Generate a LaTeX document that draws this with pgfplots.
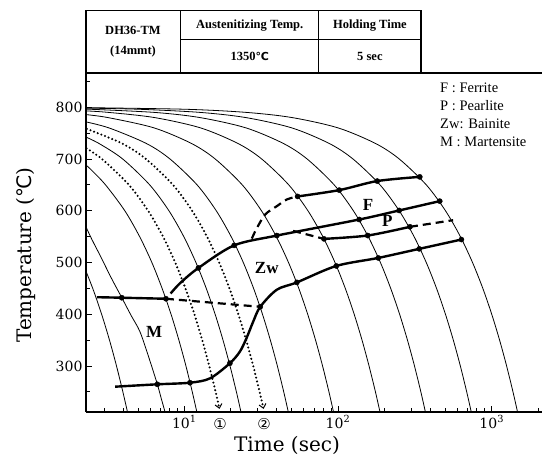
\documentclass[border=0pt]{standalone}
\usepackage{fontspec}
\setmainfont{Liberation Serif}
\newfontfamily\dvserif{DejaVu Serif}
\newfontfamily\dvsans{DejaVu Sans}
\usepackage{pgfplots}
\pgfplotsset{compat=1.18}
\usetikzlibrary{arrows.meta}
\tikzset{
  cc/.style={black, line width=0.8pt, smooth, no markers},
  dd/.style={black, line width=2.3pt, line cap=round, dash pattern=on 0pt off 3.9pt, smooth, no markers},
  tk/.style={black, line width=2.4pt, smooth, no markers},
  tkd/.style={black, line width=2.2pt, dash pattern=on 8pt off 5pt, smooth, no markers},
  mk/.style={black, only marks, mark=*, mark size=2.6pt},
}
\begin{document}
\begin{tikzpicture}[x=1pt,y=1pt]
\useasboundingbox (0,0) rectangle (542,467);
\begin{axis}[
  at={(86pt,55pt)}, anchor=south west,
  width=456pt, height=339pt, scale only axis,
  xmode=log, xmin=2.294, xmax=2124, ymin=211, ymax=866,
  axis x line*=bottom, axis y line*=left,
  axis line style={-, line width=1.3pt},
  xtick={10,100,1000},
  xticklabels={10\textsuperscript{1},10\textsuperscript{2},10\textsuperscript{3}},
  minor xtick={3,4,5,6,7,8,9,20,30,40,50,60,70,80,90,200,300,400,500,600,700,800,900,2000},
  ytick={300,400,500,600,700,800},
  yticklabels={300,400,500,600,700,800},
  minor ytick={250,350,450,550,650,750,850},
  tick style={black, line width=0.8pt},
  major tick length=6pt, minor tick length=4pt,
  tick align=inside,
  ticklabel style={font=\dvserif\fontsize{14}{14}\selectfont},
  clip=true,
]
% cooling curves
\addplot[cc] coordinates {(2.2,496.4)(2.54,449.5)(2.90,399.8)(3.26,350.1)(3.62,300.4)(3.99,249.4)(4.27,211)};
\addplot[cc] coordinates {(2.2,580)(2.5,545)(2.85,512)(3.35,470)(3.92,432)(4.5,398)(5.15,366)(5.9,315)(6.68,264.5)(7.1,236)(7.5,211)};
\addplot[cc] coordinates {(2.2,692.6)(2.459,680)(3.07,650)(4.10,600)(5.12,550)(6.15,500)(7.17,450)(8.20,400)(9.22,350)(10.25,300)(11.27,250)(12.07,211)};
\addplot[dd, -{Straight Barb[length=4pt,width=7pt,line width=1pt]}] coordinates {(2.2,724.3)(2.907,700)(4.36,650)(5.81,600)(7.27,550)(8.72,500)(10.17,450)(11.63,400)(13.08,350)(14.53,300)(15.99,250)(16.95,217)};
\addplot[cc] coordinates {(2.2,744.6)(2.78,730)(3.97,700)(5.95,650)(7.94,600)(9.92,550)(11.90,500)(13.89,450)(15.87,400)(17.86,350)(19.84,300)(21.83,250)(23.37,211)};
\addplot[dd, -{Straight Barb[length=4pt,width=7pt,line width=1pt]}] coordinates {(2.2,760.8)(3.93,730)(5.62,700)(8.43,650)(11.24,600)(14.04,550)(16.85,500)(19.66,450)(22.47,400)(25.28,350)(28.09,300)(30.90,250)(32.8,217)};
\addplot[cc] coordinates {(2.2,772.7)(3.23,760)(5.65,730)(8.06,700)(12.10,650)(16.13,600)(20.16,550)(24.19,500)(28.23,450)(32.26,400)(36.29,350)(40.32,300)(44.35,250)(47.50,211)};
\addplot[cc] coordinates {(2.2,786.1)(3.17,780)(6.35,760)(11.11,730)(15.87,700)(23.81,650)(31.75,600)(39.68,550)(47.62,500)(55.56,450)(63.49,400)(71.43,350)(79.37,300)(87.30,250)(93.49,211)};
\addplot[cc] coordinates {(2.2,793.1)(3.18,790)(6.37,780)(12.74,760)(22.29,730)(31.85,700)(47.77,650)(63.69,600)(79.62,550)(95.54,500)(111.5,450)(127.4,400)(143.3,350)(159.2,300)(175.2,250)(187.6,211)};
\addplot[cc] coordinates {(2.2,796.5)(6.29,790)(12.58,780)(25.16,760)(44.03,730)(62.89,700)(94.34,650)(125.8,600)(157.2,550)(188.7,500)(220.1,450)(251.6,400)(283.0,350)(314.5,300)(345.9,250)(370.4,211)};
\addplot[cc] coordinates {(2.2,798.2)(5,796)(12.5,790)(25,780)(50,760)(87.5,730)(125,700)(187.5,650)(250,600)(312.5,550)(375,500)(437.5,450)(500,400)(562.5,350)(625,300)(687.5,250)(736.3,211)};
\addplot[cc] coordinates {(2.2,799.1)(10,796)(25,790)(50,780)(100,760)(175,730)(250,700)(375,650)(500,600)(625,550)(750,500)(875,450)(1000,400)(1125,350)(1250,300)(1375,250)(1472.5,211)};
% Ms line
\addplot[tk] coordinates {(2.70,432.8)(3.92,431.8)(7.60,429.8)};
\addplot[tkd] coordinates {(7.6,429.8)(31.2,414.3)};
\addplot[mk] coordinates {(3.92,431.8)(7.60,429.8)};
% lower line
\addplot[tk] coordinates {(3.55,259.9)(6.68,264.5)(10.89,267.6)(14.7,276)(19.8,305.2)(23.0,327.7)(25.4,353.7)(28.1,385.9)(31.2,414.3)(40,447.3)(54,461.4)(97.5,493.2)(182.8,508.7)(337.6,526.2)(635,544.2)};
\addplot[mk] coordinates {(6.68,264.5)(10.89,267.6)(19.8,305.2)(31.2,414.3)(54,461.4)(97.5,493.2)(182.8,508.7)(337.6,526.2)(635,544.2)};
% Bs line
\addplot[tk] coordinates {(8.15,440)(9.42,460.3)(12.36,489.3)(21.1,532.9)(40,551.9)(137.4,582.9)(250,600.4)(459,618.4)};
\addplot[mk] coordinates {(12.36,489.3)(21.1,532.9)(40,551.9)(137.4,582.9)(250,600.4)(459,618.4)};
% F start
\addplot[tkd] coordinates {(27.5,546)(29.5,565)(33.6,592.6)(40,608.7)(46.5,621.7)(54.6,627.5)};
\addplot[tk] coordinates {(54.6,627.5)(101.9,639.7)(179.9,657.2)(340.4,665.3)};
\addplot[mk] coordinates {(54.6,627.5)(101.9,639.7)(179.9,657.2)(340.4,665.3)};
% P finish
\addplot[tkd] coordinates {(51,561)(81.1,545.5)};
\addplot[tk] coordinates {(81.1,545.5)(156,552)(293.8,568.8)};
\addplot[tkd] coordinates {(293.8,568.8)(561,581.6)};
\addplot[mk] coordinates {(81.1,545.5)(156,552)(293.8,568.8)};
% region labels
\node[font=\bfseries\fontsize{17}{17}\selectfont] at (axis cs:156.7,612) {F};
\node[font=\bfseries\fontsize{17}{17}\selectfont] at (axis cs:209,579.7) {P};
\node[font=\bfseries\fontsize{17}{17}\selectfont] at (axis cs:34.4,489.3) {Zw};
\node[font=\bfseries\fontsize{17}{17}\selectfont] at (axis cs:6.36,365.3) {M};
\end{axis}
% top line of frame
\draw[line width=1.3pt] (86,394) -- (542,394);
% table
\draw[line width=1.3pt] (86,394) -- (86,456.6) -- (421,456.6) -- (421,394);
\draw[line width=1.2pt] (180.6,394) -- (180.6,456.6);
\draw[line width=1.2pt] (318.7,394) -- (318.7,456.6);
\draw[line width=1.2pt] (180.6,427.2) -- (421,427.2);
\begin{scope}[every node/.style={font=\bfseries\fontsize{12.5}{13}\selectfont, inner sep=0pt}]
\node at (133,436.6) {DH36-TM};
\node at (133,415.2) {(14mmt)};
\node at (249.7,441.9) {Austenitizing Temp.};
\node at (369.9,441.9) {Holding Time};
\node at (249.7,410.6) {1350{\dvsans\fontsize{11}{11}\selectfont ℃}};
\node at (369.9,410.6) {5 sec};
\end{scope}
% legend text
\begin{scope}[every node/.style={font=\fontsize{14.5}{15}\selectfont, anchor=west, inner sep=0pt}]
\node at (440,378.7) {F : Ferrite};
\node at (440,361) {P : Pearlite};
\node at (440,343) {Zw: Bainite};
\node at (440,325) {M : Martensite};
\end{scope}
% axis labels
\node[font=\dvserif\fontsize{20}{20}\selectfont, rotate=90] at (26,212) {Temperature ({\dvsans ℃})};
\node[font=\dvserif\fontsize{20}{20}\selectfont] at (287,22) {Time (sec)};
% circled numbers
\node[font=\dvsans\fontsize{15}{15}\selectfont] at (220.2,43) {①};
\node[font=\dvsans\fontsize{15}{15}\selectfont] at (264.2,43) {②};
\end{tikzpicture}
\end{document}
